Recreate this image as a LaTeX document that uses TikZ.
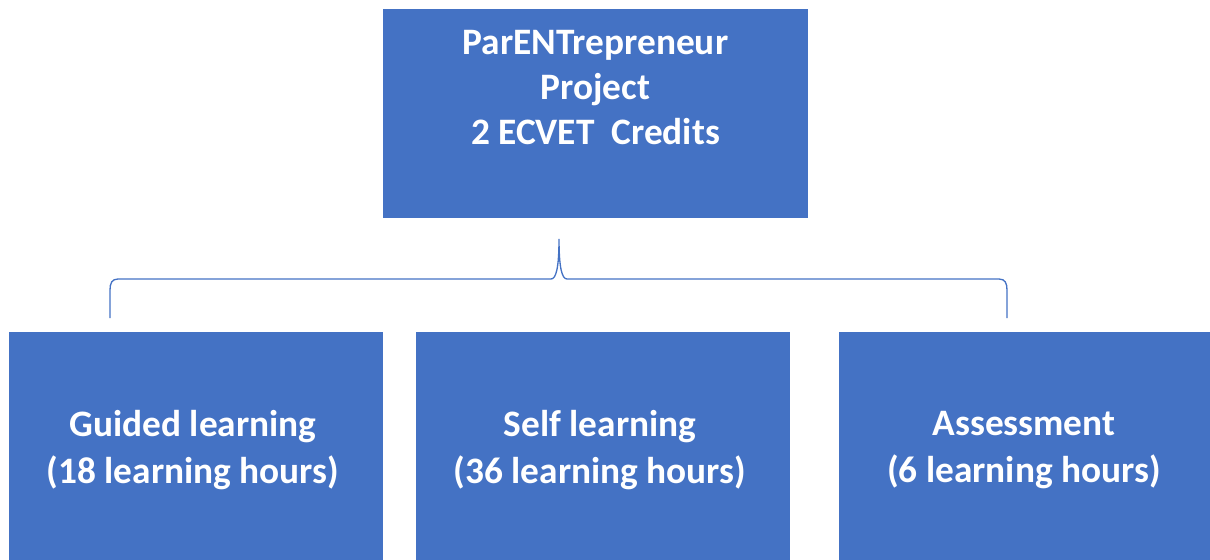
\documentclass[tikz,border=0pt]{standalone}
\usepackage{fontspec}
\setmainfont{Carlito}
\definecolor{boxblue}{HTML}{4472C4}
\begin{document}
\begin{tikzpicture}[x=0.75pt,y=-0.75pt,
  bluebox/.style={fill=boxblue,draw=none,inner sep=0pt,text=white,align=center,
    font=\fontsize{28}{35}\selectfont\bfseries},
  topbox/.style={bluebox,font=\fontsize{28}{33.6}\selectfont\bfseries},
  bracel/.style={draw=boxblue,line width=1pt}]
\useasboundingbox (0,0) rectangle (1210,560);
\fill[boxblue] (383,9) rectangle (808,218);
\node[topbox,anchor=center] (top) at (595.5,87.5) {ParENTrepreneur\\Project\\2 ECVET~~Credits};
\fill[boxblue] (9,332) rectangle (383,560);
\fill[boxblue] (416,332) rectangle (790,560);
\fill[boxblue] (839,332) rectangle (1210,560);
\node[bluebox] (guided) at (193,450) {Guided learning\\(18 learning hours)};
\node[bluebox] (self) at (600,450) {Self learning\\(36 learning hours)};
\node[bluebox] (assess) at (1024,450) {Assessment\\(6 learning hours)};
\coordinate (bl) at (110,318);
\coordinate (br) at (1007,318);
\coordinate (bt) at (559,239);
\draw[bracel] (bl) -- (110,290) .. controls (110,283) and (112,279) .. (118,279)
  -- (551,279) .. controls (556,279) and (559,268) .. (bt)
  .. controls (559,268) and (562,279) .. (567,279)
  -- (999,279) .. controls (1005,279) and (1007,283) .. (1007,290) -- (br);
\end{tikzpicture}
\end{document}
